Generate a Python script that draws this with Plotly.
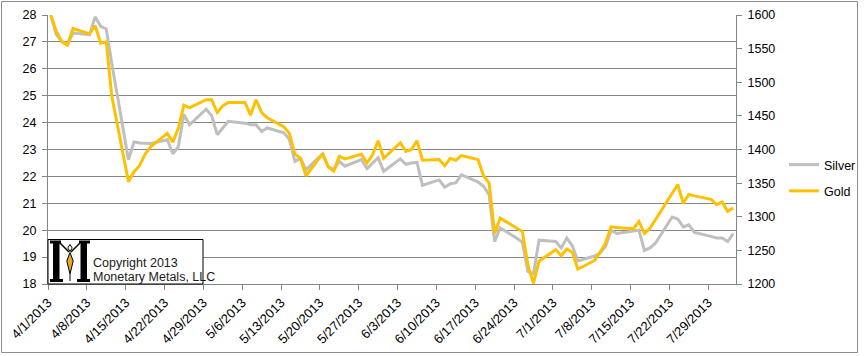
import plotly.graph_objects as go
import pandas as pd

dates = [
    "2013-04-01", "2013-04-02", "2013-04-03", "2013-04-04", "2013-04-05",
    "2013-04-08", "2013-04-09", "2013-04-10", "2013-04-11", "2013-04-12",
    "2013-04-15", "2013-04-16", "2013-04-17", "2013-04-18", "2013-04-19",
    "2013-04-22", "2013-04-23", "2013-04-24", "2013-04-25", "2013-04-26",
    "2013-04-29", "2013-04-30", "2013-05-01", "2013-05-02", "2013-05-03",
    "2013-05-06", "2013-05-07", "2013-05-08", "2013-05-09", "2013-05-10",
    "2013-05-13", "2013-05-14", "2013-05-15", "2013-05-16", "2013-05-17",
    "2013-05-20", "2013-05-21", "2013-05-22", "2013-05-23", "2013-05-24",
    "2013-05-27", "2013-05-28", "2013-05-29", "2013-05-30", "2013-05-31",
    "2013-06-03", "2013-06-04", "2013-06-05", "2013-06-06", "2013-06-07",
    "2013-06-10", "2013-06-11", "2013-06-12", "2013-06-13", "2013-06-14",
    "2013-06-17", "2013-06-18", "2013-06-19", "2013-06-20", "2013-06-21",
    "2013-06-24", "2013-06-25", "2013-06-26", "2013-06-27", "2013-06-28",
    "2013-07-01", "2013-07-02", "2013-07-03", "2013-07-04", "2013-07-05",
    "2013-07-08", "2013-07-09", "2013-07-10", "2013-07-11", "2013-07-12",
    "2013-07-15", "2013-07-16", "2013-07-17", "2013-07-18", "2013-07-19",
    "2013-07-22", "2013-07-23", "2013-07-24", "2013-07-25", "2013-07-26",
    "2013-07-29", "2013-07-30", "2013-07-31", "2013-08-01", "2013-08-02",
]

silver = [
    28.0, 27.27, 27.02, 26.9, 27.33,
    27.27, 27.93, 27.58, 27.48, 26.2,
    22.62, 23.28, 23.24, 23.22, 23.22,
    23.36, 22.84, 23.12, 24.3, 23.92,
    24.5, 24.26, 23.55, 23.8, 24.05,
    23.98, 23.92, 23.92, 23.67, 23.8,
    23.62, 23.38, 22.56, 22.68, 22.25,
    22.84, 22.37, 22.25, 22.56, 22.38,
    22.62, 22.29, 22.5, 22.7, 22.19,
    22.65, 22.45, 22.5, 22.52, 21.67,
    21.87, 21.6, 21.73, 21.76, 22.06,
    21.8, 21.63, 21.32, 19.58, 20.08,
    19.7, 19.55, 18.47, 18.38, 19.63,
    19.58, 19.34, 19.71, 19.42, 18.86,
    19.04, 19.15, 19.4, 20.0, 19.88,
    19.96, 20.0, 19.25, 19.34, 19.52,
    20.49, 20.42, 20.12, 20.2, 19.92,
    19.77, 19.71, 19.71, 19.58, 19.87,
]

gold = [
    1600, 1576, 1560, 1555, 1580,
    1572, 1584, 1558, 1560, 1479,
    1352, 1367, 1376, 1393, 1404,
    1424, 1411, 1432, 1466, 1462,
    1474, 1474, 1455, 1465, 1470,
    1470, 1451, 1474, 1455, 1447,
    1434, 1424, 1393, 1387, 1361,
    1394, 1374, 1368, 1390, 1386,
    1393, 1380, 1392, 1413, 1387,
    1410, 1397, 1400, 1413, 1384,
    1385, 1376, 1387, 1384, 1391,
    1385, 1361, 1350, 1275, 1298,
    1283, 1278, 1228, 1201, 1234,
    1251, 1242, 1252, 1247, 1222,
    1235, 1247, 1261, 1285, 1284,
    1282, 1293, 1275, 1283, 1296,
    1335, 1348, 1320, 1333, 1331,
    1326, 1318, 1322, 1308, 1313,
]

tick_dates = [
    "2013-04-01", "2013-04-08", "2013-04-15", "2013-04-22", "2013-04-29",
    "2013-05-06", "2013-05-13", "2013-05-20", "2013-05-27", "2013-06-03",
    "2013-06-10", "2013-06-17", "2013-06-24", "2013-07-01", "2013-07-08",
    "2013-07-15", "2013-07-22", "2013-07-29",
]
tick_labels = [
    "4/1/2013", "4/8/2013", "4/15/2013", "4/22/2013", "4/29/2013",
    "5/6/2013", "5/13/2013", "5/20/2013", "5/27/2013", "6/3/2013",
    "6/10/2013", "6/17/2013", "6/24/2013", "7/1/2013", "7/8/2013",
    "7/15/2013", "7/22/2013", "7/29/2013",
]

# Excel date axis: each day's point sits in the middle of its day slot
x_vals = pd.to_datetime(dates) + pd.Timedelta(hours=12)

FONT = "Liberation Sans"
GRID = "#868686"
W, H = 864, 356
L, R, T, B = 48, 128, 15, 72
PW, PH = W - L - R, H - T - B


def px(x):
    return (x - L) / PW


def py(y):
    return (H - B - y) / PH


def poly(points):
    return "M " + " L ".join(f"{px(a):.5f},{py(b):.5f}" for a, b in points) + " Z"


fig = go.Figure()
fig.add_trace(go.Scatter(
    x=x_vals, y=silver, name="Silver", mode="lines", legendgroup="s",
    line=dict(color="#BFBFBF", width=3), cliponaxis=False, yaxis="y",
))
fig.add_trace(go.Scatter(
    x=x_vals, y=gold, name="Gold", mode="lines", legendgroup="g",
    line=dict(color="#FFC000", width=3), cliponaxis=False, yaxis="y2",
))

shapes = []
# chart-area border
shapes.append(dict(type="rect", xref="paper", yref="paper",
                   x0=px(1.5), x1=px(857.5), y0=py(352.5), y1=py(1.5),
                   line=dict(color="#8C8C8C", width=1), layer="below"))
# logo box
shapes.append(dict(type="rect", xref="paper", yref="paper",
                   x0=px(48), x1=px(203), y0=py(284), y1=py(239.5),
                   fillcolor="white", line=dict(color="black", width=1), layer="above"))
# "M" logo built from simple shapes
blk = dict(color="black", width=0)
for pts in [
    [(53, 242), (59.5, 242), (59.5, 280), (53, 280)],
    [(80.5, 242), (87, 242), (87, 280), (80.5, 280)],
    [(50, 240.5), (61, 240.5), (61, 243.5), (50, 243.5)],
    [(79, 240.5), (90, 240.5), (90, 243.5), (79, 243.5)],
    [(50, 279), (63, 279), (63, 282), (50, 282)],
    [(77, 279), (90, 279), (90, 282), (77, 282)],
]:
    shapes.append(dict(type="path", xref="paper", yref="paper", path=poly(pts),
                       fillcolor="black", line=blk, layer="above"))
for a, b in [((60, 243), (69, 252)), ((80, 243), (71, 252))]:
    shapes.append(dict(type="line", xref="paper", yref="paper",
                       x0=px(a[0]), y0=py(a[1]), x1=px(b[0]), y1=py(b[1]),
                       line=dict(color="black", width=1.5), layer="above"))
shapes.append(dict(type="path", xref="paper", yref="paper",
                   path=poly([(70, 244.5), (72.2, 248), (70, 251.5), (67.8, 248)]),
                   fillcolor="white", line=dict(color="black", width=1), layer="above"))
shapes.append(dict(type="path", xref="paper", yref="paper",
                   path=poly([(70, 252.5), (73.2, 261), (70, 274), (66.8, 261)]),
                   fillcolor="#E9A820", line=dict(color="black", width=1), layer="above"))
shapes.append(dict(type="line", xref="paper", yref="paper",
                   x0=px(70), y0=py(274), x1=px(70), y1=py(281),
                   line=dict(color="black", width=1), layer="above"))

annotations = [
    dict(text="Copyright 2013", xref="paper", yref="paper", x=px(91), y=py(262.5),
         xanchor="left", yanchor="middle", showarrow=False,
         font=dict(family=FONT, size=12.5, color="#1a1a1a")),
    dict(text="Monetary Metals, LLC", xref="paper", yref="paper", x=px(91), y=py(276.5),
         xanchor="left", yanchor="middle", showarrow=False,
         font=dict(family=FONT, size=12.5, color="#1a1a1a")),
]

fig.update_layout(
    width=W, height=H,
    margin=dict(l=L, r=R, t=T, b=B, autoexpand=False),
    paper_bgcolor="white", plot_bgcolor="white",
    font=dict(family=FONT, size=12, color="#000000"),
    showlegend=True,
    legend=dict(x=px(784), y=py(150), xanchor="left", yanchor="top",
                font=dict(family=FONT, size=12.5, color="#000000"),
                bgcolor="rgba(0,0,0,0)", traceorder="grouped", tracegroupgap=7,
                itemwidth=30),
    xaxis=dict(type="date", range=["2013-04-01", "2013-08-03"],
               tickmode="array", tickvals=tick_dates, ticktext=tick_labels,
               tickangle=-45, ticks="outside", ticklen=5, tickcolor=GRID,
               showline=True, linecolor=GRID, linewidth=1, showgrid=False,
               zeroline=False, tickfont=dict(family=FONT, size=13), automargin=False),
    yaxis=dict(range=[18, 28], dtick=1, tick0=18, ticks="outside", ticklen=5,
               tickcolor=GRID, showline=True, linecolor=GRID, linewidth=1,
               showgrid=True, gridcolor=GRID, gridwidth=1, zeroline=False,
               tickfont=dict(family=FONT, size=12.5), ticklabelstandoff=3,
               automargin=False),
    yaxis2=dict(range=[1200, 1600], dtick=50, tick0=1200, overlaying="y", side="right",
                ticks="outside", ticklen=5, tickcolor=GRID, showline=True,
                linecolor=GRID, linewidth=1, showgrid=False, zeroline=False,
                tickfont=dict(family=FONT, size=12.5), ticklabelstandoff=3,
                automargin=False),
    shapes=shapes,
    annotations=annotations,
)

fig.write_html(
    "out.html",
    config={"displayModeBar": False},
    post_script="document.body.style.margin='0';document.body.style.overflow='hidden';",
)
